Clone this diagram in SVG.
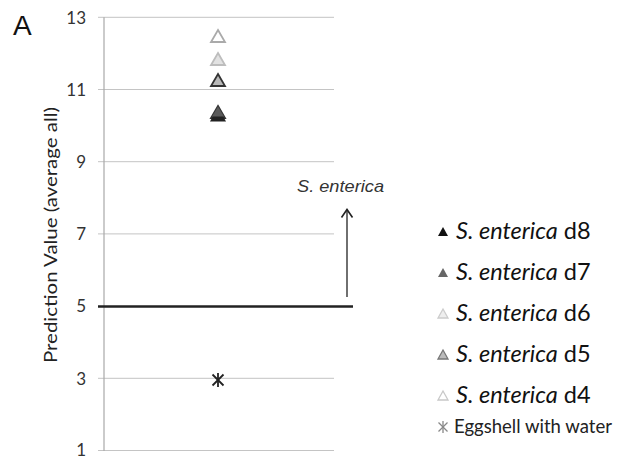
<svg xmlns="http://www.w3.org/2000/svg" width="624" height="458" viewBox="0 0 624 458">
<style>
.grid{stroke:#c4c4c4;stroke-width:1}
.axis{stroke:#a8a8a8;stroke-width:1.2}
.tick{font-family:Lato,"Liberation Sans",sans-serif;font-size:17px;fill:#333;text-anchor:end}
.leg{font-family:Lato,"Liberation Sans",sans-serif;font-size:23.5px;fill:#111}
.it{font-style:italic}
</style>
<defs>
<marker id="arr" markerWidth="14" markerHeight="14" refX="12.5" refY="7" orient="auto" markerUnits="userSpaceOnUse" viewBox="0 0 14 14">
<path d="M4.5,1.5 L12.5,7 L4.5,12.5" fill="none" stroke="#222" stroke-width="1.6"/>
</marker>
</defs>
<rect width="624" height="458" fill="#fff"/>
<text x="13" y="35" font-family="Liberation Sans,Arial,sans-serif" font-size="28" fill="#111">A</text>
<g id="axes">
<line class="grid" x1="98" y1="17.3" x2="334" y2="17.3"/>
<line class="grid" x1="98" y1="89.5" x2="334" y2="89.5"/>
<line class="grid" x1="98" y1="161.7" x2="334" y2="161.7"/>
<line class="grid" x1="98" y1="233.9" x2="334" y2="233.9"/>
<line class="grid" x1="98" y1="378.3" x2="334" y2="378.3"/>
<line class="grid" x1="98" y1="450.5" x2="334" y2="450.5"/>
<line class="axis" x1="104" y1="17.3" x2="104" y2="451"/>
<text class="tick" x="86" y="23.5">13</text>
<text class="tick" x="86" y="95.7">11</text>
<text class="tick" x="86" y="167.9">9</text>
<text class="tick" x="86" y="240.1">7</text>
<text class="tick" x="86" y="312.3">5</text>
<text class="tick" x="86" y="384.5">3</text>
<text class="tick" x="86" y="455.5">1</text>
<text transform="translate(57,235) rotate(-90)" text-anchor="middle" font-family="Lato,'Liberation Sans',sans-serif" font-size="17" fill="#222" textLength="256" lengthAdjust="spacingAndGlyphs">Prediction Value (average all)</text>
</g>
<g id="threshold">
<line x1="98" y1="306.5" x2="353" y2="306.5" stroke="#222" stroke-width="2.6"/>
</g>
<g id="connectors">
<line x1="347" y1="297" x2="347" y2="209.5" stroke="#333" stroke-width="1.4" marker-end="url(#arr)"/>
</g>
<g id="label-enterica">
<text x="297" y="192" font-family="Liberation Sans,Arial,sans-serif" font-style="italic" font-size="16.5" fill="#333" textLength="87" lengthAdjust="spacingAndGlyphs">S. enterica</text>
</g>
<g id="points">
<polygon points="218,30 225,42 211,42" fill="#fff" stroke="#aaa" stroke-width="1.8"/>
<polygon points="218,53 225,65 211,65" fill="#e2e2e2" stroke="#bdbdbd" stroke-width="1.8"/>
<polygon points="218,74 225,86 211,86" fill="#b8b8b8" stroke="#333" stroke-width="1.8"/>
<polygon points="218,106 225,118 211,118" fill="#666" stroke="#333" stroke-width="1.8"/>
<polygon points="218,109 225,121 211,121" fill="#222" stroke="#222" stroke-width="1.2"/>
<polygon points="218,106.5 224,116.5 212,116.5" fill="#5a5a5a" stroke="none"/>
<g stroke="#222" stroke-width="1.8">
<line x1="218" y1="373" x2="218" y2="387"/>
<line x1="212.5" y1="374.5" x2="223.5" y2="385.5"/>
<line x1="223.5" y1="374.5" x2="212.5" y2="385.5"/>
</g>
</g>
<g id="legend">
<g id="leg-d8">
<polygon points="443,227 448,236 438,236" fill="#111"/>
<text class="leg" x="456" y="239"><tspan class="it">S. enterica</tspan> d8</text>
</g>
<g id="leg-d7">
<polygon points="443,268 448,277 438,277" fill="#666"/>
<text class="leg" x="456" y="280"><tspan class="it">S. enterica</tspan> d7</text>
</g>
<g id="leg-d6">
<polygon points="443,309 448,318 438,318" fill="#eee" stroke="#ccc" stroke-width="1.3"/>
<text class="leg" x="456" y="321"><tspan class="it">S. enterica</tspan> d6</text>
</g>
<g id="leg-d5">
<polygon points="443,350 448,359 438,359" fill="#bbb" stroke="#777" stroke-width="1.3"/>
<text class="leg" x="456" y="362"><tspan class="it">S. enterica</tspan> d5</text>
</g>
<g id="leg-d4">
<polygon points="443,391 448,400 438,400" fill="#fff" stroke="#c8c8c8" stroke-width="1.3"/>
<text class="leg" x="456" y="403"><tspan class="it">S. enterica</tspan> d4</text>
</g>
<g id="leg-egg">
<g stroke="#888" stroke-width="1.3">
<line x1="443" y1="421" x2="443" y2="433"/>
<line x1="438.5" y1="422.5" x2="447.5" y2="431.5"/>
<line x1="447.5" y1="422.5" x2="438.5" y2="431.5"/>
</g>
<text x="454" y="433" font-family="Lato,'Liberation Sans',sans-serif" font-size="18.5" fill="#222" textLength="158" lengthAdjust="spacingAndGlyphs">Eggshell with water</text>
</g>
</g>
</svg>
